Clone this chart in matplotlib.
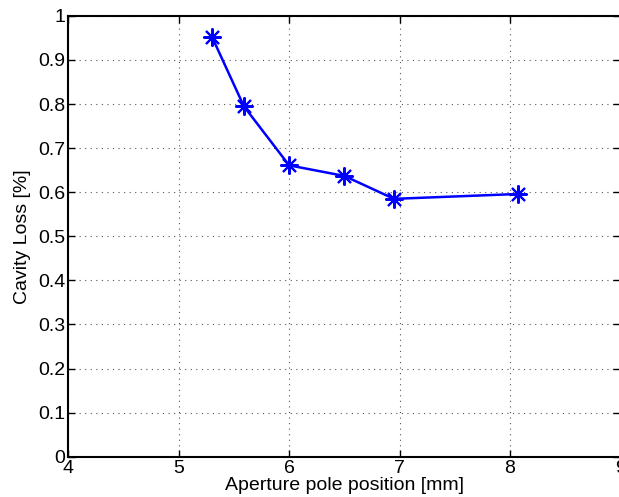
import matplotlib
matplotlib.use("Agg")
import matplotlib.pyplot as plt

# aperture pole position vs cavity loss
pos = [5.30, 5.59, 6.00, 6.50, 6.95, 8.07]
loss = [0.953, 0.795, 0.661, 0.637, 0.585, 0.596]

xticks = [4, 5, 6, 7, 8, 9]
yticks = [0, 0.1, 0.2, 0.3, 0.4, 0.5, 0.6, 0.7, 0.8, 0.9, 1]
yticklabels = ['0', '0.1', '0.2', '0.3', '0.4', '0.5', '0.6', '0.7', '0.8', '0.9', '1']

plt.rcParams['font.family'] = ['Liberation Sans', 'DejaVu Sans']

fig = plt.figure(figsize=(6.19, 4.97), dpi=100)
ax = fig.add_axes([0.1105, 0.081, 0.8895 + 0.002, 0.887])

# MATLAB-style '*' marker: 8-armed asterisk
ax.plot(pos, loss, color='#0000ff', lw=1.8, marker=(8, 2, 0), ms=13, mew=1.5)

ax.set_xlim(4, 9)
ax.set_ylim(0, 1)
ax.set_xticks(xticks)
ax.set_yticks(yticks)
ax.set_yticklabels(yticklabels)
ax.tick_params(direction='in', length=5, width=1, labelsize=14, pad=2,
               top=True, right=True)
ax.grid(True, linestyle=(0, (1, 4)), color='#555555', lw=0.8)
for s in ax.spines.values():
    s.set_linewidth(1.5)

ax.set_xlabel('Aperture pole position [mm]', fontsize=14, labelpad=0)
ax.set_ylabel('Cavity Loss [%]', fontsize=14, labelpad=5)

fig.savefig('out.png', dpi=100)
